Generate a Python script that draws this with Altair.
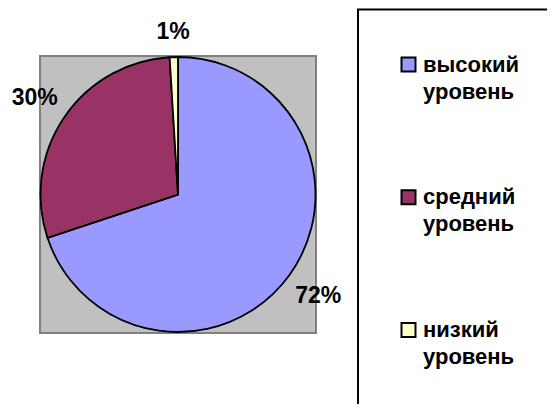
import altair as alt
import pandas as pd

categories = ["высокий уровень", "средний уровень", "низкий уровень"]
values = [72, 30, 1]
colors = ["#9999FF", "#993366", "#FFFFCC"]

df = pd.DataFrame({"cat": categories, "value": values, "rank": list(range(len(categories)))})
df["label"] = df["value"].astype(str) + "%"

FONT = "Liberation Sans"
CX, CY = 170, 186.5

color = alt.Color("cat:N", scale=alt.Scale(domain=categories, range=colors), legend=None)
theta = alt.Theta("value:Q", stack=True)
order = alt.Order("rank:Q")

one = alt.Data(values=[{"k": 1}])

bg = alt.Chart(one).mark_rect(fill="#C0C0C0", stroke="#808080", strokeWidth=2).encode(
    x=alt.value(32), x2=alt.value(308), y=alt.value(48), y2=alt.value(325)
)

pie = alt.Chart(df).mark_arc(outerRadius=137.5, stroke="black", strokeWidth=1.8).encode(
    theta=theta, color=color, order=order, x=alt.value(CX), y=alt.value(CY)
)


def label_layer(test, r):
    return alt.Chart(df).mark_text(
        radius=r, font=FONT, fontWeight="bold", fontSize=23, color="black"
    ).encode(
        theta=theta, order=order, x=alt.value(CX), y=alt.value(CY),
        text=alt.condition(test, "label:N", alt.value("")),
    )


labels_big = label_layer("datum.value >= 5", 173)
labels_small = label_layer("datum.value < 5", 163)

box = alt.Chart(one).mark_rect(fill="white", stroke="black", strokeWidth=2).encode(
    x=alt.value(350), x2=alt.value(700), y=alt.value(1.5), y2=alt.value(600)
)

ly = alt.Y("cat:N", scale=alt.Scale(type="point", domain=categories, range=[56.5, 322], padding=0), axis=None)

swatches = alt.Chart(df).mark_square(size=196, stroke="black", strokeWidth=2, opacity=1, strokeOpacity=1).encode(
    x=alt.value(400.5), y=ly, color=color
)

ltext = alt.Chart(df).transform_calculate(lines="split(datum.cat, ' ')").mark_text(
    align="left", baseline="middle", font=FONT, fontWeight="bold", fontSize=22, lineHeight=27, color="black"
).encode(x=alt.value(415), y=ly, text="lines:N")

chart = alt.layer(bg, pie, labels_big, labels_small, box, swatches, ltext).properties(
    width=539, height=396, autosize=alt.AutoSizeParams(type="none"), padding=0
).configure_view(strokeWidth=0)

chart.save("out.html", embed_options={"renderer": "svg", "actions": False})
